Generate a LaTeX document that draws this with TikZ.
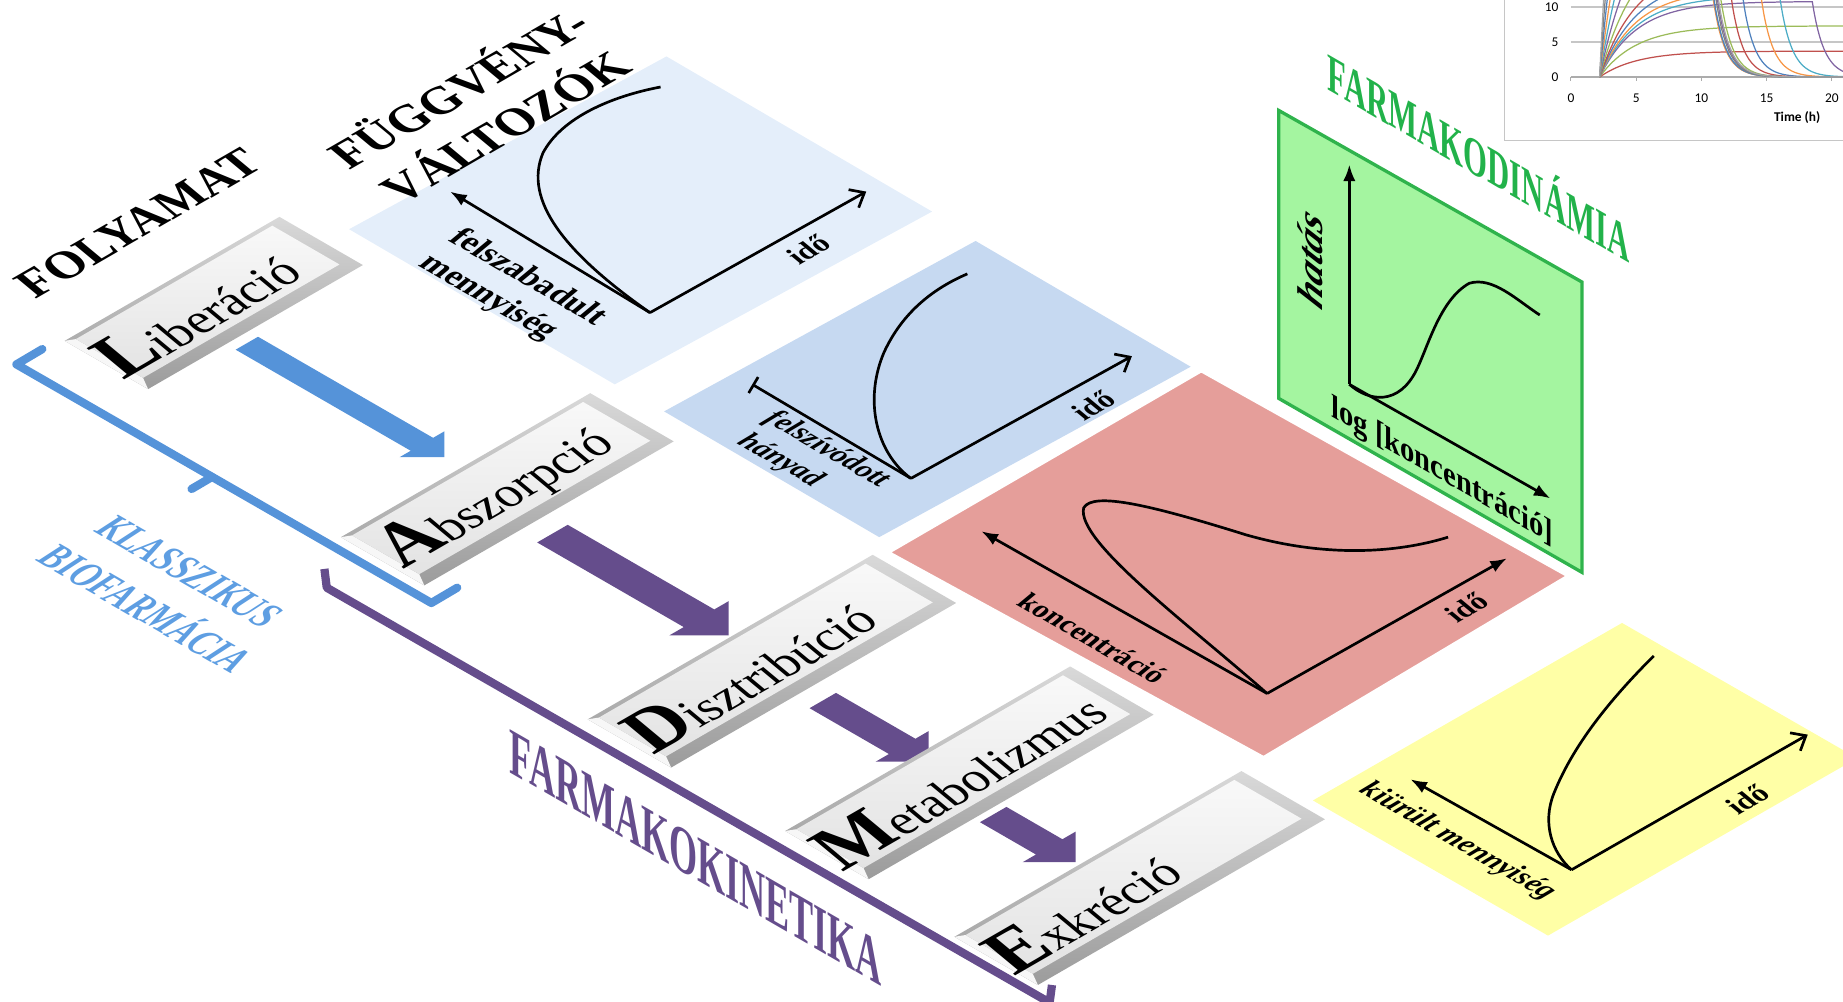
\documentclass[tikz,border=0pt]{standalone}
\usepackage{fontspec}
\setmainfont{Liberation Serif}
\newfontfamily\chartfont{Carlito}
\usetikzlibrary{arrows.meta}

\definecolor{panelA}{HTML}{E4EEFA}
\definecolor{panelB}{HTML}{C6D9F1}
\definecolor{panelC}{HTML}{E59E9A}
\definecolor{panelD}{HTML}{FFFFA6}
\definecolor{panelE}{HTML}{A4F5A0}
\definecolor{edgeE}{HTML}{2FB34C}
\definecolor{txtE}{HTML}{22B24A}
\definecolor{bioblue}{HTML}{5593D9}
\definecolor{biotext}{HTML}{5E9EE2}
\definecolor{pkpurple}{HTML}{654D8C}
\definecolor{xa}{HTML}{4F81BD}
\definecolor{xb}{HTML}{C0504D}
\definecolor{xc}{HTML}{9BBB59}
\definecolor{xd}{HTML}{8064A2}
\definecolor{xe}{HTML}{4BACC6}
\definecolor{xf}{HTML}{F79646}

\tikzset{
  isofloor/.style={x={(0.866*0.02cm,0.5*0.02cm)},y={(0.866*0.02cm,-0.5*0.02cm)}},
  floorU/.style={cm={0.866,0.5,-0.77,0.64,(0,0)}},
  floorV/.style={cm={0.866,-0.5,0.77,0.64,(0,0)}},
  wallV/.style={cm={0.866,-0.5,0,1,(0,0)}},
  wallUp/.style={cm={0,1,-0.866,0.5,(0,0)}},
  boxrim/.style={top color=gray!30, bottom color=gray!78},
  boxface/.style={top color=gray!5, bottom color=gray!22},
  boxtext/.style={floorU, inner sep=0pt, font=\fontsize{24}{24}\selectfont},
  headtext/.style={floorU, inner sep=0pt, font=\fontsize{23}{29}\selectfont\bfseries},
  axislabel/.style={inner sep=0pt, font=\fontsize{16}{19}\selectfont\bfseries},
  timelabel/.style={floorU, inner sep=0pt, font=\fontsize{14}{14}\selectfont\bfseries},
  axis/.style={line width=1.3pt},
  curve/.style={line width=1.3pt},
  tick/.style={inner sep=1pt, font=\chartfont\fontsize{6.5}{7}\selectfont}
}

% process box lying on the floor
\newcommand{\procbox}[5]{%
  \begin{scope}[shift={#2}, isofloor]
    \shade[boxrim] (0,0) -- (#3,0) -- (#3,82) -- (0,82) -- cycle;
    \fill[gray!6] (0,0) -- (7,4) -- (7,70) -- (0,82) -- cycle;% light end
    \shade[boxface] (7,4) -- (#3-11,4) -- (#3-11,70) -- (7,70) -- cycle;
    \node[boxtext] (#1) at (#4,41) {#5};
  \end{scope}}

% flat block arrow pointing down the floor
\newcommand{\isoarrow}[5]{%
  \begin{scope}[shift={#1}, isofloor]
    \fill[#5] (-#3,0) -- (-#3,#2) -- (-#4,#2) -- (0,#2+#4) -- (#4,#2) -- (#3,#2) -- (#3,0) -- cycle;
  \end{scope}}

\begin{document}
\begin{tikzpicture}[x=0.02cm, y=-0.02cm]
  \useasboundingbox (0,0) rectangle (1568,852);

  % small chart, top right
  \draw[gray!45, line width=0.8pt] (1280,0) -- (1280,119.5) -- (1568,119.5);
  \foreach \yy in {6,35.7}
    \draw[gray!45, line width=0.6pt] (1336.5,\yy) -- (1568,\yy);
  \draw[gray!65, line width=0.6pt] (1336.5,65.5) -- (1568,65.5);
  \foreach \xx in {0,5,10,15,20}{
    \draw[gray!65, line width=0.5pt] ({1336.5+11.1*\xx},65.5) -- ++(0,3);
    \node[tick] (tx\xx) at ({1336.5+11.1*\xx},83.5) {\xx};
  }
  \node[tick, anchor=east] (ty10) at (1328,6) {10};
  \node[tick, anchor=east] (ty5) at (1328,35.7) {5};
  \node[tick, anchor=east] (ty0) at (1328,65.5) {0};
  \node[tick, font=\chartfont\bfseries\fontsize{6.5}{7}\selectfont] (time) at (1529,100) {Time (h)};
  \begin{scope}
    \clip (1337,0) rectangle (1568,66);
    \foreach \L/\T/\cc in {3.7/30/xb, 7.3/30/xc, 10.8/18.5/xd, 11.6/16/xe, 12.5/14.5/xf,
        14/13/xa, 16/12/xb, 20/11/xc, 26/10.5/xd, 34/10/xe, 45/9.7/xf, 60/9.5/xa,
        80/9.4/gray, 110/9.3/gray!70}{
      \pgfmathsetmacro\Te{min(\T,21.9)}
      \pgfmathsetmacro\CT{\L*(1-exp(-0.35*(\Te-2.2)))}
      \draw[\cc, line width=0.6pt] plot[domain=2.2:\Te, samples=40, smooth]
          ({1336.5+11.1*\x},{65.5-5.95*\L*(1-exp(-0.35*(\x-2.2)))})
        -- plot[domain=\Te:22, samples=25, smooth]
          ({1336.5+11.1*\x},{65.5-5.95*\CT*exp(-1.1*(\x-\Te))});
    }
  \end{scope}

  % panels on the floor
  \fill[panelA] (297,195) -- (567,48) -- (793,180) -- (523,327) -- cycle;
  \fill[panelB] (565,350) -- (830,205) -- (1013,312) -- (748,457) -- cycle;
  \filldraw[fill=panelC, draw=white, line width=2pt] (755,470) -- (1022,315) -- (1335,490) -- (1075,645) -- cycle;
  \fill[panelD] (1117,681) -- (1380,530) -- (1580,645) -- (1317,796) -- cycle;
  % upright panel
  \filldraw[fill=panelE, draw=edgeE, line width=1.6pt] (1088,94) -- (1088,339) -- (1346,487) -- (1346,240) -- cycle;

  % liberation graph
  \coordinate (o1) at (553,266);
  \draw[axis, -{Latex[length=8pt,width=6pt]}] (o1) -- (383,163);
  \draw[axis, -{Straight Barb[length=6pt,width=10pt]}] (o1) -- (737,163);
  \draw[curve] (o1) .. controls (480,215) and (445,170) .. (462,130) .. controls (478,100) and (520,82) .. (562,74);

  % absorption graph
  \coordinate (o2) at (775,407);
  \draw[axis, -{Bar[width=9pt]}] (o2) -- (640,327);
  \draw[axis, -{Straight Barb[length=6pt,width=10pt]}] (o2) -- (963,303);
  \draw[curve] (o2) .. controls (745,385) and (735,340) .. (752,300) .. controls (768,265) and (795,245) .. (823,233);

  % distribution graph
  \coordinate (o3) at (1078,590);
  \draw[axis, -{Latex[length=8pt,width=6pt]}] (o3) -- (835,452);
  \draw[axis, -{Latex[length=8pt,width=6pt]}] (o3) -- (1282,475);
  \draw[curve] (o3) .. controls (1010,530) and (915,460) .. (922,432) .. controls (930,418) and (980,430) .. (1060,455) .. controls (1130,475) and (1190,470) .. (1232,457);

  % excretion graph
  \coordinate (o4) at (1337,740);
  \draw[axis, -{Latex[length=8pt,width=6pt]}] (o4) -- (1200,663);
  \draw[axis, -{Straight Barb[length=6pt,width=10pt]}] (o4) -- (1538,625);
  \draw[curve] (o4) .. controls (1320,725) and (1312,700) .. (1322,675) .. controls (1340,630) and (1375,590) .. (1407,558);

  % effect graph
  \coordinate (o5) at (1148,327);
  \draw[axis, -{Latex[length=8pt,width=6pt]}] (o5) -- (1148,140);
  \draw[axis, -{Latex[length=8pt,width=6pt]}] (o5) -- (1319,424);
  \draw[curve] (o5) .. controls (1165,342) and (1190,345) .. (1205,315) .. controls (1215,295) and (1225,255) .. (1250,241) .. controls (1270,235) and (1290,255) .. (1310,268);

  % brackets
  \draw[bioblue, line width=4pt, line join=round, line cap=round] (36,297) -- (14,310) -- (367,513) -- (389,500);
  \draw[bioblue, line width=4pt, line cap=round] (180,406) -- (163,416);
  \draw[pkpurple, line width=4pt, line join=round] (276,484) -- (278,500) -- (893,853) -- (895,838);

  % block arrows
  \isoarrow{(210,292)}{172}{11}{22}{bioblue}
  \isoarrow{(470,454)}{144}{15}{29}{pkpurple}
  \isoarrow{(700,596)}{78}{13}{26}{pkpurple}
  \isoarrow{(845,693)}{55}{13}{26}{pkpurple}

  % process boxes
  \procbox{lib}{(55,290)}{211}{88}{{\bfseries\fontsize{36}{36}\selectfont L}iberáció}
  \procbox{abs}{(290,457)}{245}{111}{{\bfseries\fontsize{36}{36}\selectfont A}bszorpció}
  \procbox{dis}{(500,612)}{280}{117}{{\bfseries\fontsize{36}{36}\selectfont D}isztribúció}
  \procbox{met}{(668,707)}{280}{129}{{\bfseries\fontsize{36}{36}\selectfont M}etabolizmus}
  \procbox{exk}{(812,797)}{282}{84}{{\bfseries\fontsize{36}{36}\selectfont E}xkréció}

  % headings and labels
  \node[headtext] (folyamat) at (118,190) {FOLYAMAT};
  \node[headtext, align=center] (fuggveny) at (408,90) {FÜGGVÉNY-\\VÁLTOZÓK};
  \node[floorV, axislabel, align=left] (lab1) at (436,247) {felszabadult\\mennyiség};
  \node[timelabel] (ido1) at (688,212) {idő};
  \node[floorV, axislabel, align=left, font=\fontsize{14}{17}\selectfont\bfseries\itshape] (lab2) at (692,392) {felszívódott\\hányad};
  \node[timelabel] (ido2) at (930,345) {idő};
  \node[floorV, axislabel, font=\fontsize{14}{14}\selectfont\bfseries] (lab3) at (930,543) {koncentráció};
  \node[timelabel] (ido3) at (1248,517) {idő};
  \node[floorV, axislabel, font=\fontsize{14}{14}\selectfont\bfseries\itshape] (lab4) at (1240,716) {kiürült mennyiség};
  \node[timelabel] (ido4) at (1487,680) {idő};
  \node[wallUp, axislabel, font=\fontsize{20}{20}\selectfont\bfseries\itshape] (hatas) at (1115,220) {hatás};
  \node[wallV, axislabel] (logc) at (1227,402) {log [koncentráció]};
  \node[cm={0.572,-0.33,0,1,(0,0)}, inner sep=0pt, text=txtE, font=\fontsize{26}{26}\selectfont\bfseries] (pd) at (1258,131) {FARMAKODINÁMIA};
  \node[cm={0.546,-0.315,0,1,(0,0)}, inner sep=0pt, text=pkpurple, font=\fontsize{32}{32}\selectfont\bfseries] (pk) at (592,730) {FARMAKOKINETIKA};
  \node[cm={0.65,-0.375,0.77,0.64,(0,0)}, inner sep=0pt, align=center, text=biotext, font=\fontsize{21}{28}\selectfont\bfseries\itshape] (bio) at (142,502) {KLASSZIKUS\\BIOFARMÁCIA};
\end{tikzpicture}
\end{document}
